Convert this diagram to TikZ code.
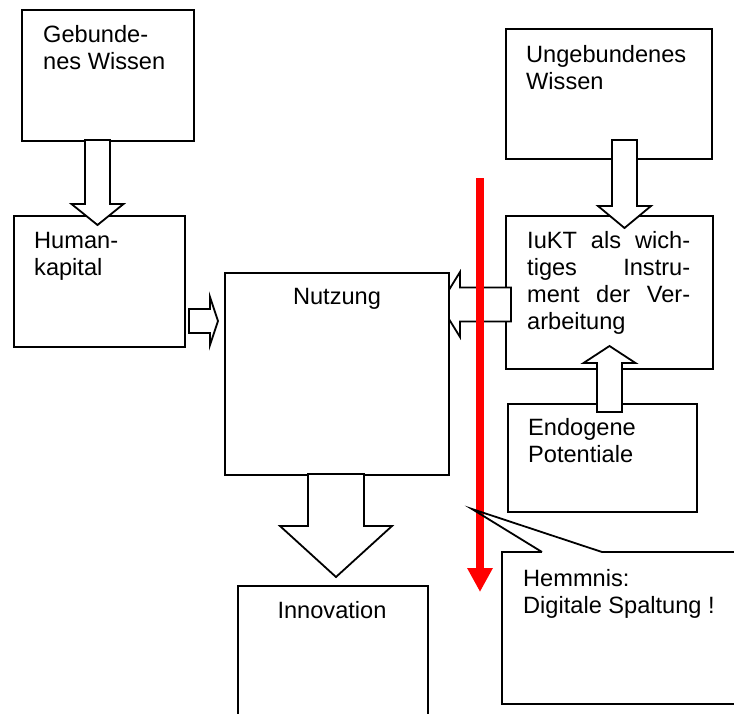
\documentclass[tikz,border=0pt]{standalone}
\usepackage{fontspec}
\setmainfont{Liberation Sans}
\usetikzlibrary{arrows.meta}

\tikzset{
  box/.style={draw, line width=1.8pt, fill=white, rectangle, inner sep=0pt, anchor=north west},
  blockarr/.style={draw, line width=1.8pt, fill=white, line join=miter},
  lbl/.style={inner sep=0pt, anchor=base west, font=\fontsize{23.6}{27.2}\selectfont},
  clbl/.style={inner sep=0pt, anchor=base, font=\fontsize{23.6}{27.2}\selectfont},
  redarrow/.style={draw=red, line width=8pt, -{Triangle[width=24pt,length=24pt]}},
  calloutline/.style={draw, line width=1.8pt, line join=miter}
}

% multi-line label, first baseline at the node's base anchor
\newcommand\lines[1]{\parbox[t]{220pt}{\raggedright #1}}
% justified line of fixed width
\newcommand\jline[1]{\makebox[163pt][s]{#1}}

% block arrow: #1 start, #2 direction vector, #3 perpendicular vector,
% #4 length, #5 shaft half width, #6 head half width, #7 head length
\newcommand\blockarrow[7]{%
  \begin{scope}[shift={(#1)}, x={#2}, y={#3}]
    \draw[blockarr] (0,-#5) -- ({#4-#7},-#5) -- ({#4-#7},-#6) -- (#4,0)
      -- ({#4-#7},#6) -- ({#4-#7},#5) -- (0,#5) -- cycle;
  \end{scope}}

\begin{document}
\begin{tikzpicture}[x=1pt, y=-1pt]
  \useasboundingbox (0,0) rectangle (734,713);
  \clip (0,0) rectangle (734,713);

  % left column
  \node[box, minimum width=172pt, minimum height=131pt] (geb) at (21,9) {};
  \node[lbl] (geb-t) at (43,42.5) {\lines{Gebunde-\\nes Wissen}};
  \node[box, minimum width=171pt, minimum height=131pt] (hum) at (13,215) {};
  \node[lbl] (hum-t) at (34,248) {\lines{Human-\\kapital}};

  \coordinate (a-geb) at (97.5,140);
  \blockarrow{a-geb}{(0pt,-1pt)}{(1pt,0pt)}{85}{12.5}{26}{21}

  \coordinate (a-hum) at (189,321);
  \blockarrow{a-hum}{(1pt,0pt)}{(0pt,1pt)}{29}{12}{24}{8}

  % right column
  \node[box, minimum width=206pt, minimum height=130pt] (ung) at (505,28) {};
  \node[lbl] (ung-t) at (526,62) {\lines{Ungebundenes\\Wissen}};
  \node[box, minimum width=207pt, minimum height=153pt] (iukt) at (505,215) {};
  \node[lbl] (iukt-t) at (527,248.3) {\lines{\jline{IuKT als wich-}\\\jline{tiges Instru-}\\\jline{ment der Ver-}\\arbeitung}};
  \node[box, minimum width=189pt, minimum height=108pt] (endo) at (507,403) {};
  \node[lbl] (endo-t) at (528,435.7) {\lines{Endogene\\Potentiale}};

  \coordinate (a-ung) at (624.5,140);
  \blockarrow{a-ung}{(0pt,-1pt)}{(1pt,0pt)}{88}{12.5}{26.5}{22}

  \coordinate (a-endo) at (609.5,412);
  \blockarrow{a-endo}{(0pt,1pt)}{(1pt,0pt)}{66}{12.5}{26}{17}

  \coordinate (a-iukt) at (511,304.5);
  \blockarrow{a-iukt}{(-1pt,0pt)}{(0pt,1pt)}{71}{17}{32.5}{20}

  % centre column
  \node[box, minimum width=224pt, minimum height=202pt] (nut) at (224,272) {};
  \node[clbl] (nut-t) at (337,304) {Nutzung};

  \coordinate (a-nut) at (336,474);
  \blockarrow{a-nut}{(0pt,-1pt)}{(1pt,0pt)}{103}{28}{56}{51}

  \node[box, minimum width=190pt, minimum height=150pt] (inn) at (237,585) {};
  \node[clbl] (inn-t) at (332,618.3) {Innovation};

  % callout
  \coordinate (ptip) at (472,509);
  \coordinate (pa) at (542,552);
  \coordinate (pb) at (602,552);
  \fill[white] (502,552) -- (pa) -- (ptip) -- (pb) -- (760,552) -- (760,704) -- (502,704) -- cycle;
  \draw[calloutline] (pa) -- (502,552) -- (502,704) -- (760,704) -- (760,552) -- (pb);
  \node[lbl] (hemm-t) at (523,586) {\lines{Hemmnis:\\Digitale Spaltung !}};

  % barrier arrow
  \coordinate (rtop) at (480,178);
  \coordinate (rtip) at (480,592);
  \draw[redarrow] (rtop) -- (rtip);

  % callout pointer over the barrier
  \draw[calloutline] (pa) -- (ptip) -- (pb);
\end{tikzpicture}
\end{document}
